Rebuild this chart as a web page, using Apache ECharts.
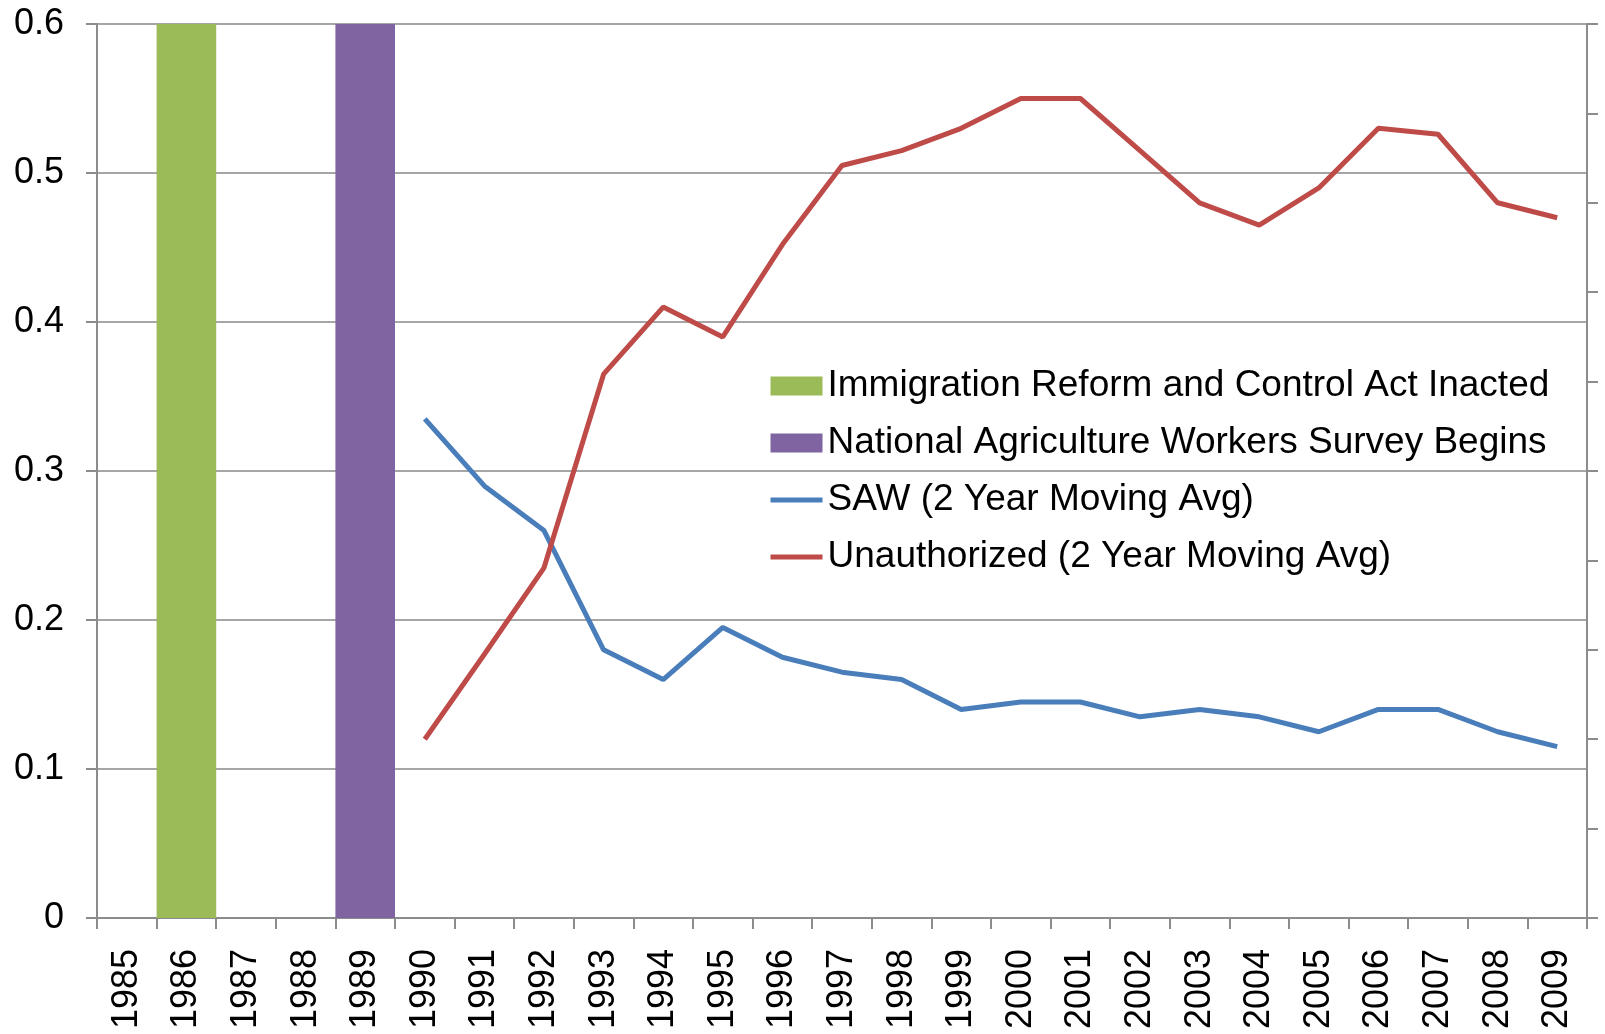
<!DOCTYPE html>
<html>
<head>
<meta charset="utf-8">
<script src="https://cdn.jsdelivr.net/npm/echarts@6/dist/echarts.min.js"></script>
<style>
  html, body { margin: 0; padding: 0; background: #fff; }
  #chart { width: 1605px; height: 1034px; }
</style>
</head>
<body>
<div id="chart"></div>
<script>
// categories
const years = ["1985", "1986", "1987", "1988", "1989", "1990", "1991", "1992", "1993", "1994",
  "1995", "1996", "1997", "1998", "1999", "2000", "2001", "2002", "2003", "2004",
  "2005", "2006", "2007", "2008", "2009"];

// event markers (full-height bars)
const irca = [null, 0.6, null, null, null, null, null, null, null, null, null, null, null,
  null, null, null, null, null, null, null, null, null, null, null, null];
const naws = [null, null, null, null, 0.6, null, null, null, null, null, null, null, null,
  null, null, null, null, null, null, null, null, null, null, null, null];

// 2 year moving averages
const saw = [null, null, null, null, null, 0.335, 0.29, 0.26, 0.18, 0.16,
  0.195, 0.175, 0.165, 0.16, 0.14, 0.145, 0.145, 0.135, 0.14, 0.135,
  0.125, 0.14, 0.14, 0.125, 0.115];
const unauthorized = [null, null, null, null, null, 0.12, 0.177, 0.235, 0.365, 0.41,
  0.39, 0.452, 0.505, 0.515, 0.53, 0.55, 0.55, 0.515, 0.48, 0.465,
  0.49, 0.53, 0.526, 0.48, 0.47];

const chartDom = document.getElementById("chart");
const myChart = echarts.init(chartDom);

const font = "Liberation Sans, Arial, sans-serif";
const gridColor = "#a6a6a6";
const axisColor = "#8c8c8c";

const option = {
  animation: false,
  textStyle: { fontFamily: font },
  grid: { left: 97, right: 18, top: 24, bottom: 116 },
  legend: {
    orient: "vertical",
    left: 763,
    top: 361,
    itemWidth: 52,
    itemHeight: 19,
    itemGap: 17,
    textStyle: { fontSize: 37, color: "#000", fontFamily: font, lineHeight: 40 },
    data: [
      { name: "Immigration Reform and Control Act Inacted", icon: "rect" },
      { name: "National Agriculture Workers Survey Begins", icon: "rect" },
      { name: "SAW (2 Year Moving Avg)", itemStyle: { opacity: 0 }, lineStyle: { width: 5 } },
      { name: "Unauthorized (2 Year Moving Avg)", itemStyle: { opacity: 0 }, lineStyle: { width: 5 } }
    ]
  },
  xAxis: {
    type: "category",
    data: years,
    boundaryGap: true,
    axisLine: { lineStyle: { color: axisColor, width: 2 } },
    axisTick: { show: true, length: 11, lineStyle: { color: axisColor, width: 2 } },
    axisLabel: { rotate: 90, fontSize: 36, color: "#000", margin: 31, fontFamily: font }
  },
  yAxis: [
    {
      type: "value",
      min: 0,
      max: 0.6,
      interval: 0.1,
      axisLine: { show: true, lineStyle: { color: axisColor, width: 2 } },
      axisTick: { show: true, length: 11, lineStyle: { color: axisColor, width: 2 } },
      splitLine: { lineStyle: { color: gridColor, width: 2 } },
      axisLabel: { fontSize: 36, color: "#000", margin: 33, fontFamily: font }
    },
    {
      type: "value",
      min: 0,
      max: 1,
      interval: 0.1,
      position: "right",
      axisLine: { show: true, lineStyle: { color: axisColor, width: 2 } },
      axisTick: { show: true, length: 11, lineStyle: { color: axisColor, width: 2 } },
      splitLine: { show: false },
      axisLabel: { show: false }
    }
  ],
  series: [
    {
      name: "Immigration Reform and Control Act Inacted",
      type: "bar",
      stack: "events",
      barWidth: "100%",
      data: irca,
      itemStyle: { color: "#9bbb59" }
    },
    {
      name: "National Agriculture Workers Survey Begins",
      type: "bar",
      stack: "events",
      barWidth: "100%",
      data: naws,
      itemStyle: { color: "#8064a2" }
    },
    {
      name: "SAW (2 Year Moving Avg)",
      type: "line",
      data: saw,
      symbol: "none",
      lineStyle: { color: "#4a7ebb", width: 5 },
      itemStyle: { color: "#4a7ebb" }
    },
    {
      name: "Unauthorized (2 Year Moving Avg)",
      type: "line",
      data: unauthorized,
      symbol: "none",
      lineStyle: { color: "#be4b48", width: 5 },
      itemStyle: { color: "#be4b48" }
    }
  ]
};

option && myChart.setOption(option);
</script>
</body>
</html>
